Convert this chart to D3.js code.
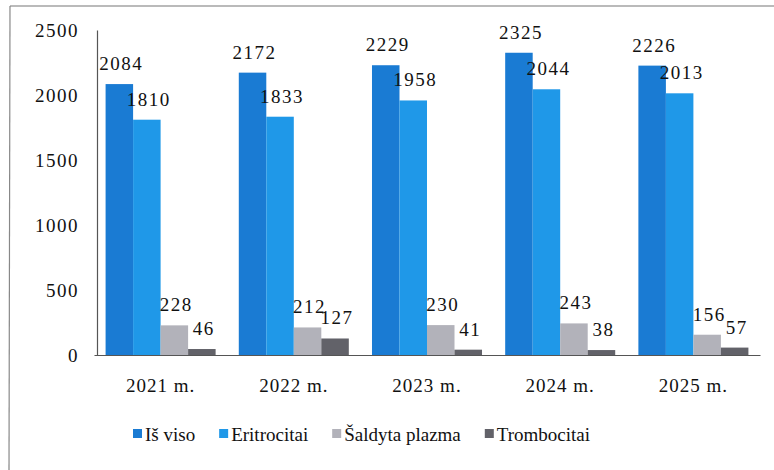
<!DOCTYPE html>
<html>
<head>
<meta charset="utf-8">
<script src="https://cdn.jsdelivr.net/npm/d3@7"></script>
<style>
  html, body { margin: 0; padding: 0; background: #fff; }
  svg { display: block; }
  text { font-family: "Liberation Serif", "Times New Roman", serif; fill: #111; }
</style>
</head>
<body>
<svg id="chart" width="774" height="470"></svg>
<script>
const categories = ["2021 m.", "2022 m.", "2023 m.", "2024 m.", "2025 m."];
const seriesNames = ["Iš viso", "Eritrocitai", "Šaldyta plazma", "Trombocitai"];
const isViso      = [2084, 2172, 2229, 2325, 2226];
const eritrocitai = [1810, 1833, 1958, 2044, 2013];
const plazma      = [228, 212, 230, 243, 156];
const trombocitai = [46, 127, 41, 38, 57];
const yTicks = [0, 500, 1000, 1500, 2000, 2500];
const colors = ["#1a7bd3", "#1f98e8", "#b2b2ba", "#626269"];

const seriesValues = [isViso, eritrocitai, plazma, trombocitai];

const svg = d3.select("#chart");

// frame (scanned page border)
svg.append("line").attr("x1", 10).attr("y1", 6).attr("x2", 774).attr("y2", 6)
  .attr("stroke", "#777").attr("stroke-width", 1.2);
svg.append("line").attr("x1", 10).attr("y1", 6).attr("x2", 9).attr("y2", 470)
  .attr("stroke", "#888").attr("stroke-width", 1.2);

const x0 = d3.scaleBand().domain(categories).range([94, 760])
  .paddingInner(0.174).paddingOuter(0.087);
const x1 = d3.scaleBand().domain(seriesNames).range([0, x0.bandwidth()]).padding(0);
const y = d3.scaleLinear().domain([0, 2500]).range([355, 30]);

// y axis
const yAxis = d3.axisLeft(y).tickValues(yTicks).tickFormat(d3.format("d"))
  .tickSize(0).tickPadding(18);
const gy = svg.append("g").attr("transform", "translate(97,0)").call(yAxis);
gy.attr("font-family", null).attr("font-size", null);
gy.select(".domain").attr("stroke", "#555").attr("stroke-width", 1.2);
gy.selectAll("text").attr("font-size", 19).attr("letter-spacing", 1.5)
  .attr("fill", "#111").attr("dy", "0.35em");

// bars
const groups = svg.append("g").selectAll("g").data(categories).join("g")
  .attr("transform", d => `translate(${x0(d)},0)`);

groups.each(function(cat, ci) {
  const g = d3.select(this);
  seriesNames.forEach((s, si) => {
    const v = seriesValues[si][ci];
    g.append("rect")
      .attr("x", x1(s)).attr("width", x1.bandwidth())
      .attr("y", y(v)).attr("height", y(0) - y(v))
      .attr("fill", colors[si]);
  });
});

// x axis
const xAxis = d3.axisBottom(x0).tickSize(0).tickPadding(24);
const gx = svg.append("g").attr("transform", "translate(0,355)").call(xAxis);
gx.attr("font-family", null).attr("font-size", null);
gx.select(".domain").attr("stroke", "#555").attr("stroke-width", 1.2);
gx.selectAll("text").attr("font-size", 19).attr("letter-spacing", 1)
  .attr("fill", "#111");

// data labels
groups.each(function(cat, ci) {
  const g = d3.select(this);
  seriesNames.forEach((s, si) => {
    const v = seriesValues[si][ci];
    g.append("text")
      .attr("x", x1(s) + x1.bandwidth() / 2 + 2)
      .attr("y", y(v) - 14)
      .attr("text-anchor", "middle")
      .attr("font-size", 19)
      .attr("letter-spacing", 1.5)
      .text(v);
  });
});

// legend
const legend = svg.append("g").attr("transform", "translate(133,434)");
let lx = 0;
seriesNames.forEach((s, i) => {
  const item = legend.append("g").attr("transform", `translate(${lx},0)`);
  item.append("rect").attr("x", 0).attr("y", -5).attr("width", 9).attr("height", 9)
    .attr("fill", colors[i]);
  const t = item.append("text").attr("x", 12).attr("y", 0).attr("dy", "0.35em")
    .attr("font-size", 19).text(s);
  lx += 12 + t.node().getComputedTextLength() + 24;
});
</script>
</body>
</html>
